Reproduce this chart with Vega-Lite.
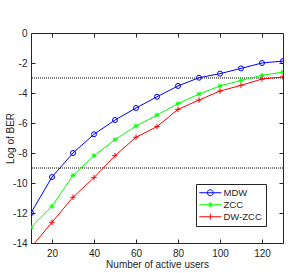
{
  "$schema": "https://vega.github.io/schema/vega-lite/v6.json",
  "width": 252,
  "height": 210,
  "autosize": {"type": "none"},
  "padding": {"left": 31, "top": 33, "right": 15, "bottom": 30},
  "background": "white",
  "config": {
    "font": "Liberation Sans",
    "view": {"stroke": null},
    "axis": {
      "labelFont": "Liberation Sans",
      "labelFontSize": 10,
      "labelColor": "#262626",
      "titleFont": "Liberation Sans",
      "titleFontSize": 10,
      "titleFontWeight": "normal",
      "titleColor": "#262626",
      "domainColor": "#262626",
      "tickColor": "#262626",
      "tickSize": -4,
      "grid": false,
      "labelPadding": 8
    },
    "legend": {
      "title": null, "orient": "none", "legendX": 165, "legendY": 151,
      "padding": 4, "strokeColor": "#262626", "fillColor": "white", "cornerRadius": 0,
      "labelFont": "Liberation Sans", "labelFontSize": 9.5, "labelColor": "#262626",
      "symbolSize": 36, "symbolStrokeWidth": 1, "symbolOpacity": 1, "symbolOffset": 5.5, "labelOffset": 8.5, "rowPadding": 1
    }
  },
  "datasets": {
    "refs": [{"level": -3}, {"level": -9}],
    "ber": [
      {"users": 10, "scheme": "MDW", "logber": -12.0},
      {"users": 20, "scheme": "MDW", "logber": -9.6},
      {"users": 30, "scheme": "MDW", "logber": -8.0},
      {"users": 40, "scheme": "MDW", "logber": -6.75},
      {"users": 50, "scheme": "MDW", "logber": -5.8},
      {"users": 60, "scheme": "MDW", "logber": -5.0},
      {"users": 70, "scheme": "MDW", "logber": -4.25},
      {"users": 80, "scheme": "MDW", "logber": -3.53},
      {"users": 90, "scheme": "MDW", "logber": -2.98},
      {"users": 100, "scheme": "MDW", "logber": -2.71},
      {"users": 110, "scheme": "MDW", "logber": -2.36},
      {"users": 120, "scheme": "MDW", "logber": -2.0},
      {"users": 130, "scheme": "MDW", "logber": -1.87},
      {"users": 10, "scheme": "ZCC", "logber": -12.95},
      {"users": 20, "scheme": "ZCC", "logber": -11.55},
      {"users": 30, "scheme": "ZCC", "logber": -9.49},
      {"users": 40, "scheme": "ZCC", "logber": -8.18},
      {"users": 50, "scheme": "ZCC", "logber": -7.11},
      {"users": 60, "scheme": "ZCC", "logber": -6.2},
      {"users": 70, "scheme": "ZCC", "logber": -5.47},
      {"users": 80, "scheme": "ZCC", "logber": -4.71},
      {"users": 90, "scheme": "ZCC", "logber": -4.07},
      {"users": 100, "scheme": "ZCC", "logber": -3.53},
      {"users": 110, "scheme": "ZCC", "logber": -3.16},
      {"users": 120, "scheme": "ZCC", "logber": -2.82},
      {"users": 130, "scheme": "ZCC", "logber": -2.6},
      {"users": 10, "scheme": "DW-ZCC", "logber": -14.3},
      {"users": 20, "scheme": "DW-ZCC", "logber": -12.62},
      {"users": 30, "scheme": "DW-ZCC", "logber": -10.95},
      {"users": 40, "scheme": "DW-ZCC", "logber": -9.64},
      {"users": 50, "scheme": "DW-ZCC", "logber": -8.18},
      {"users": 60, "scheme": "DW-ZCC", "logber": -6.95},
      {"users": 70, "scheme": "DW-ZCC", "logber": -6.24},
      {"users": 80, "scheme": "DW-ZCC", "logber": -5.09},
      {"users": 90, "scheme": "DW-ZCC", "logber": -4.47},
      {"users": 100, "scheme": "DW-ZCC", "logber": -3.87},
      {"users": 110, "scheme": "DW-ZCC", "logber": -3.49},
      {"users": 120, "scheme": "DW-ZCC", "logber": -3.07},
      {"users": 130, "scheme": "DW-ZCC", "logber": -2.93}
    ]
  },
  "layer": [
    {
      "data": {"name": "refs"},
      "mark": {"type": "rule", "strokeDash": [1, 1], "color": "black", "strokeWidth": 1},
      "encoding": {
        "y": {"field": "level", "type": "quantitative", "scale": {"domain": [-14, 0], "nice": false}, "axis": null}
      }
    },
    {
      "data": {"name": "ber"},
      "mark": {"type": "line", "strokeWidth": 1, "clip": true},
      "encoding": {
        "x": {"field": "users", "type": "quantitative", "scale": {"domain": [10, 130], "nice": false},
              "axis": {"orient": "bottom", "values": [20, 40, 60, 80, 100, 120], "title": "Number of active users", "labelPadding": 9, "titlePadding": 1}},
        "y": {"field": "logber", "type": "quantitative", "scale": {"domain": [-14, 0], "nice": false},
              "axis": {"orient": "left", "values": [-14, -12, -10, -8, -6, -4, -2, 0], "title": "Log of BER", "labelExpr": "'' + datum.value", "titleX": -21, "titleBaseline": "middle"}},
        "color": {"field": "scheme", "type": "nominal",
                  "scale": {"domain": ["MDW", "ZCC", "DW-ZCC"], "range": ["#0000ff", "#00ff00", "#ff0000"]}}
      }
    },
    {
      "data": {"name": "ber"},
      "transform": [{"filter": {"field": "scheme", "equal": "MDW"}}],
      "mark": {"type": "point", "filled": false, "size": 25, "strokeWidth": 1, "clip": true, "opacity": 1, "shape": "circle", "color": "#0000ff"},
      "encoding": {
        "x": {"field": "users", "type": "quantitative", "scale": {"domain": [10, 130], "nice": false},
              "axis": {"orient": "top", "values": [20, 40, 60, 80, 100, 120], "labels": false, "title": null}},
        "y": {"field": "logber", "type": "quantitative", "scale": {"domain": [-14, 0], "nice": false},
              "axis": {"orient": "right", "values": [-14, -12, -10, -8, -6, -4, -2, 0], "labels": false, "title": null}}
      }
    },
    {
      "data": {"name": "ber"},
      "transform": [{"filter": {"field": "scheme", "equal": "ZCC"}}],
      "mark": {"type": "point", "filled": false, "size": 25, "strokeWidth": 1, "clip": true, "opacity": 1, "shape": "M-1,0H1M0,-1V1M-0.7,-0.7L0.7,0.7M-0.7,0.7L0.7,-0.7", "color": "#00ff00"},
      "encoding": {
        "x": {"field": "users", "type": "quantitative", "axis": null},
        "y": {"field": "logber", "type": "quantitative", "axis": null}
      }
    },
    {
      "data": {"name": "ber"},
      "transform": [{"filter": {"field": "scheme", "equal": "DW-ZCC"}}],
      "mark": {"type": "point", "filled": false, "size": 30, "strokeWidth": 1, "clip": true, "opacity": 1, "shape": "M-1,0H1M0,-1V1", "color": "#ff0000"},
      "encoding": {
        "x": {"field": "users", "type": "quantitative", "axis": null},
        "y": {"field": "logber", "type": "quantitative", "axis": null}
      }
    },
    {
      "data": {"name": "ber"},
      "mark": {"type": "point", "filled": false, "size": 36, "strokeWidth": 1, "clip": true, "opacity": 0},
      "encoding": {
        "x": {"field": "users", "type": "quantitative", "axis": null},
        "y": {"field": "logber", "type": "quantitative", "axis": null},
        "color": {"field": "scheme", "type": "nominal",
                  "scale": {"domain": ["MDW", "ZCC", "DW-ZCC"], "range": ["#0000ff", "#00ff00", "#ff0000"]}},
        "shape": {"field": "scheme", "type": "nominal",
                  "scale": {"domain": ["MDW", "ZCC", "DW-ZCC"], "range": ["M-3.67,0H3.67M1,0A1,1,0,1,1,-1,0A1,1,0,1,1,1,0", "M-3.67,0H3.67M0,-0.8V0.8M-0.57,-0.57L0.57,0.57M-0.57,0.57L0.57,-0.57", "M-3.67,0H3.67M0,-1V1"]}}
      }
    }
  ],
  "resolve": {"axis": {"x": "independent", "y": "independent"}}
}
